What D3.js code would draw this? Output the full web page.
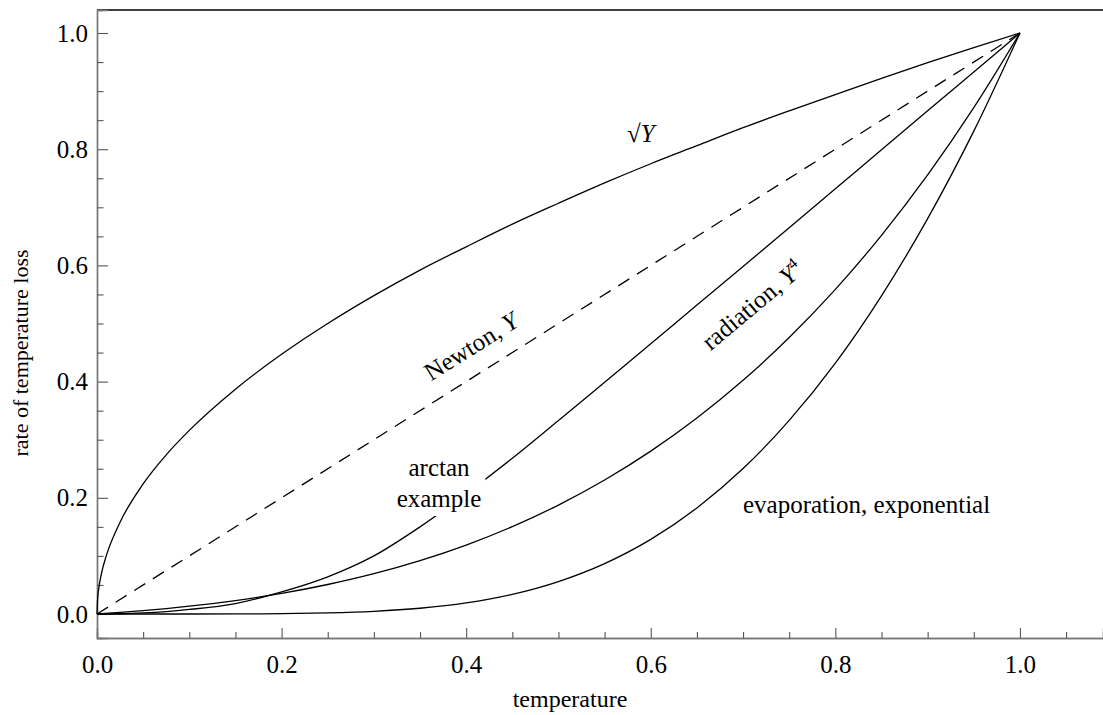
<!DOCTYPE html>
<html>
<head>
<meta charset="utf-8">
<script src="https://cdn.jsdelivr.net/npm/d3@7"></script>
<style>
  html, body { margin: 0; padding: 0; background: #fff; }
  svg { display: block; font-family: "Liberation Serif", "Times New Roman", serif; }
</style>
</head>
<body>
<svg id="chart" width="1103" height="715"></svg>
<script>
// ---- data ----
const sqrtX = [0, 0.0005, 0.001, 0.0025, 0.005, 0.01, 0.025, 0.05, 0.075, 0.1, 0.15, 0.2, 0.25, 0.3, 0.35, 0.4, 0.45, 0.5, 0.55, 0.6, 0.65, 0.7, 0.75, 0.8, 0.85, 0.9, 0.95, 1.0];
const sqrtY = [0, 0.022, 0.032, 0.05, 0.071, 0.1, 0.158, 0.224, 0.274, 0.316, 0.387, 0.447, 0.5, 0.548, 0.592, 0.632, 0.671, 0.707, 0.742, 0.775, 0.806, 0.837, 0.866, 0.894, 0.922, 0.949, 0.975, 1.0];
const xs = [0, 0.025, 0.05, 0.075, 0.1, 0.15, 0.2, 0.25, 0.3, 0.35, 0.4, 0.45, 0.5, 0.55, 0.6, 0.65, 0.7, 0.75, 0.8, 0.85, 0.9, 0.95, 1.0];
const arctanY = [0, 0.0004, 0.0018, 0.0042, 0.0078, 0.018, 0.038, 0.064, 0.100, 0.150, 0.207, 0.268, 0.333, 0.399, 0.465, 0.532, 0.598, 0.665, 0.732, 0.799, 0.866, 0.933, 1.0];
const radiationY = [0, 0.0027, 0.0058, 0.0094, 0.0134, 0.0232, 0.0355, 0.0508, 0.0694, 0.0919, 0.1187, 0.1504, 0.1875, 0.2306, 0.2803, 0.3373, 0.4022, 0.4758, 0.5587, 0.6518, 0.7558, 0.8716, 1.0];
const evaporationY = [0, 0, 0, 0, 0.00003, 0.00016, 0.0006, 0.0019, 0.0046, 0.0099, 0.0191, 0.0339, 0.0559, 0.0868, 0.1285, 0.1825, 0.2503, 0.3332, 0.4318, 0.5477, 0.6805, 0.8311, 1.0];
const newtonX = [0, 1];
const newtonY = [0, 1];

const xMajor = [0, 0.2, 0.4, 0.6, 0.8, 1.0];
const xMinor = [0.05, 0.1, 0.15, 0.25, 0.3, 0.35, 0.45, 0.5, 0.55, 0.65, 0.7, 0.75, 0.85, 0.9, 0.95, 1.05];
const yMajor = [0, 0.2, 0.4, 0.6, 0.8, 1.0];
const yMinor = [0.05, 0.1, 0.15, 0.25, 0.3, 0.35, 0.45, 0.5, 0.55, 0.65, 0.7, 0.75, 0.85, 0.9, 0.95];
const xLabel = "temperature";
const yLabel = "rate of temperature loss";

// ---- layout ----
const svg = d3.select("#chart");
const x = d3.scaleLinear().domain([0, 1.09]).range([97, 1103]);
const y = d3.scaleLinear().domain([-0.0413, 1.0396]).range([638, 10]);
const fmt = d3.format(".1f");
const FS = 25;

// top frame line
svg.append("line").attr("x1", x(0)).attr("x2", x(1.09)).attr("y1", y(1.0396)).attr("y2", y(1.0396))
  .attr("stroke", "#000").attr("stroke-width", 1.3);

// axes
const axisColor = "#777";
const gx = svg.append("g").attr("transform", `translate(0,${y(-0.0413)})`);
gx.call(d3.axisBottom(x).tickValues(xMajor).tickSize(-10).tickPadding(17).tickFormat(fmt));
gx.append("g").call(d3.axisBottom(x).tickValues(xMinor).tickSize(-6).tickFormat(""));
const gy = svg.append("g").attr("transform", `translate(${x(0)},0)`);
gy.call(d3.axisLeft(y).tickValues(yMajor).tickSize(-11).tickPadding(9).tickFormat(fmt));
gy.append("g").call(d3.axisLeft(y).tickValues(yMinor).tickSize(-6.5).tickFormat(""));
svg.selectAll(".domain").attr("stroke", axisColor).attr("stroke-width", 1.4);
svg.selectAll(".tick line").attr("stroke", "#555").attr("stroke-width", 1.1);
svg.selectAll(".tick text").attr("font-family", "Liberation Serif").attr("font-size", FS).attr("fill", "#000");
gx.selectAll(".tick text").attr("dy", "0.71em");

// axis titles
svg.append("text").attr("x", 570).attr("y", 707).attr("text-anchor", "middle")
  .attr("font-size", 24).text(xLabel);
svg.append("text").attr("transform", "translate(28,353) rotate(-90)").attr("text-anchor", "middle")
  .attr("font-size", 22).text(yLabel);

// curves
const line = d3.line().x(d => x(d[0])).y(d => y(d[1])).curve(d3.curveMonotoneX);
const zip = (a, b) => a.map((v, i) => [v, b[i]]);
const plot = svg.append("g");
function draw(data, attrs) {
  const p = plot.append("path").attr("d", line(data)).attr("fill", "none")
    .attr("stroke", "#000").attr("stroke-width", 1.3);
  if (attrs) Object.entries(attrs).forEach(([k, v]) => p.attr(k, v));
  return p;
}
draw(zip(sqrtX, sqrtY));
draw(zip(newtonX, newtonY), { "stroke-dasharray": "13,9" });
draw(zip(xs, radiationY));
draw(zip(xs, evaporationY));

// labels
const lab = svg.append("g").attr("font-size", FS);
const sq = lab.append("text").attr("x", 627).attr("y", 142);
sq.append("tspan").text("√");
sq.append("tspan").attr("font-style", "italic").text("Y");

const nt = lab.append("text").attr("transform", "translate(471,346) rotate(-32)").attr("text-anchor", "middle").attr("dy", "0.35em");
nt.append("tspan").text("Newton, ");
nt.append("tspan").attr("font-style", "italic").text("Y");

const rd = lab.append("text").attr("transform", "translate(752,305) rotate(-40)").attr("text-anchor", "middle").attr("dy", "0.35em");
rd.append("tspan").text("radiation, ");
rd.append("tspan").attr("font-style", "italic").text("Y");
rd.append("tspan").attr("font-size", 16).attr("dy", "-0.6em").text("4");

lab.append("text").attr("x", 743).attr("y", 513).text("evaporation,  exponential");

const arcLab = lab.append("g");
arcLab.append("text").attr("x", 439).attr("y", 476).attr("text-anchor", "middle").text("arctan");
arcLab.append("text").attr("x", 439).attr("y", 507).attr("text-anchor", "middle").text("example");

// gap in the arctan curve behind its label
const bb = arcLab.node().getBBox();
const defs = svg.append("defs");
const mask = defs.append("mask").attr("id", "arcMask").attr("maskUnits", "userSpaceOnUse")
  .attr("x", 0).attr("y", 0).attr("width", 1103).attr("height", 715);
mask.append("rect").attr("x", 0).attr("y", 0).attr("width", 1103).attr("height", 715).attr("fill", "#fff");
mask.append("rect").attr("x", bb.x - 4).attr("y", bb.y - 2).attr("width", bb.width + 8).attr("height", bb.height + 6).attr("fill", "#000");
draw(zip(xs, arctanY), { "mask": "url(#arcMask)" });
</script>
</body>
</html>
